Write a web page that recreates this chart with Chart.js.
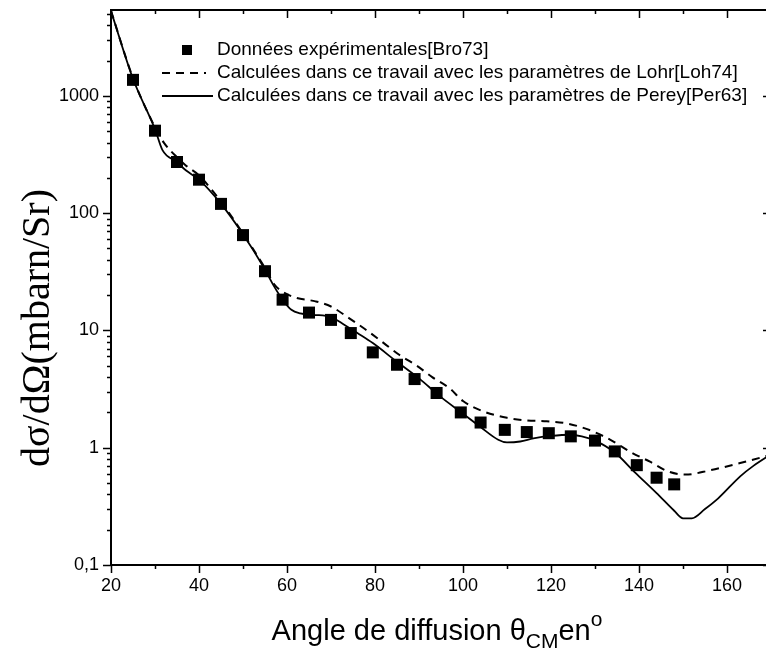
<!DOCTYPE html>
<html>
<head>
<meta charset="utf-8">
<script src="https://cdn.jsdelivr.net/npm/chart.js@4/dist/chart.umd.min.js"></script>
<style>
  html, body { margin: 0; padding: 0; background: #fff; overflow: hidden; }
</style>
</head>
<body>
<canvas id="chart" width="790" height="659"></canvas>
<script>
/* ============================
   DATA
============================ */
// Experimental points [Bro73]
const expAngles = [25, 30, 35, 40, 45, 50, 55, 59, 65, 70, 74.5, 79.5, 85, 89, 94, 99.5,
                   104, 109.5, 114.5, 119.5, 124.5, 130, 134.5, 139.5, 144, 148];
const expValues = [1370, 505, 273, 193, 120, 65, 32, 18.3, 14.2, 12.3, 9.5, 6.5, 5.1, 3.85, 2.93, 2.0,
                   1.64, 1.42, 1.36, 1.33, 1.25, 1.15, 0.93, 0.71, 0.555, 0.487];

// Calculation with Lohr parameters [Loh74] (dashed)
const lohrAngles = [20, 25, 30, 32, 35, 37, 40, 45, 50, 55, 57, 58.5, 62, 66.5, 70, 74, 78, 82,
                    85.5, 89.5, 93, 97, 100, 104.5, 110, 114.5, 119, 124, 129.5, 134, 138.5,
                    142.5, 146.5, 150.5, 156, 163, 170];
const lohrValues = [5300, 1420, 540, 400, 300, 255, 210, 125, 67, 34, 25, 22, 19, 17.7, 16, 12.8, 10.1, 7.8,
                    6.2, 5.0, 4.0, 3.2, 2.5, 2.05, 1.8, 1.71, 1.68, 1.6, 1.38, 1.14, 0.9,
                    0.76, 0.63, 0.59, 0.64, 0.74, 0.87];

// Calculation with Perey parameters [Per63] (solid)
const pereyAngles = [20, 25, 30, 31.7, 35, 37, 40, 45, 50, 55, 57, 59, 61, 63, 66, 70, 73, 76, 79.5,
                     85, 90, 95, 100, 104, 108, 110, 113, 116, 120, 124.5, 127, 130, 134.5,
                     139, 144, 148, 150, 152, 155, 158, 163, 166, 170];
const pereyValues = [5300, 1400, 520, 345, 272, 232, 193, 120, 66, 33, 24, 18.3, 15, 14, 13.6, 13, 11.2, 9.5, 7.8,
                     5.4, 3.9, 2.7, 1.95, 1.5, 1.17, 1.11, 1.13, 1.2, 1.26, 1.29, 1.25, 1.15, 0.91,
                     0.62, 0.41, 0.29, 0.25, 0.25, 0.3, 0.37, 0.57, 0.7, 0.88];

// Axis ticks
const xMajorTicks = [20, 40, 60, 80, 100, 120, 140, 160];
const xMinorTicks = [30, 50, 70, 90, 110, 130, 150, 170];
const yDecades = [0.1, 1, 10, 100, 1000];
const yLabels = ['0,1', '1', '10', '100', '1000'];

const legendLabels = [
    'Données expérimentales[Bro73]',
    'Calculées dans ce travail avec les paramètres de Lohr[Loh74]',
    'Calculées dans ce travail avec les paramètres de Perey[Per63]'
];

const SANS = '"Liberation Sans", Arial, sans-serif';
const SERIF = '"Liberation Serif", "Times New Roman", serif';

const toPoints = (xs, ys) => xs.map((x, i) => ({ x, y: ys[i] }));

/* ============================
   FRAME, TICKS, LEGEND, TITLES
============================ */
const decorations = {
    id: 'decorations',
    afterDatasetsDraw(chart) {
        const { ctx, chartArea: a, scales: { x, y } } = chart;
        ctx.save();
        ctx.strokeStyle = '#000';
        ctx.lineWidth = 2;
        ctx.strokeRect(a.left, a.top, a.right - a.left, a.bottom - a.top);

        ctx.lineWidth = 1.5;
        ctx.beginPath();
        const xTick = (v, len) => {
            const px = Math.round(x.getPixelForValue(v)) + 0.5;
            ctx.moveTo(px, a.bottom); ctx.lineTo(px, a.bottom + len);   // outward
            ctx.moveTo(px, a.top);    ctx.lineTo(px, a.top + len);      // inward
        };
        xMajorTicks.forEach(v => xTick(v, 8));
        xMinorTicks.forEach(v => xTick(v, 4));

        const yTick = (v, len) => {
            const py = Math.round(y.getPixelForValue(v)) + 0.5;
            if (py < a.top - 1 || py > a.bottom + 1) return;
            ctx.moveTo(a.left, py);  ctx.lineTo(a.left - len, py);
            ctx.moveTo(a.right, py); ctx.lineTo(a.right - len, py);
        };
        yDecades.forEach(d => {
            yTick(d, 8);
            for (let m = 2; m <= 9; m++) yTick(d * m, 4);
        });
        ctx.stroke();
        ctx.restore();
    },
    afterDraw(chart) {
        const { ctx } = chart;
        const ds = chart.data.datasets;
        ctx.save();
        ctx.fillStyle = '#000';
        ctx.strokeStyle = '#000';

        // Legend
        const rows = [50, 73, 96];
        ctx.fillRect(182, rows[0] - 5, 10, 10);
        ctx.lineWidth = ds[1].borderWidth;
        ctx.setLineDash(ds[1].borderDash);
        ctx.beginPath(); ctx.moveTo(162, rows[1]); ctx.lineTo(206, rows[1]); ctx.stroke();
        ctx.setLineDash([]);
        ctx.lineWidth = ds[2].borderWidth;
        ctx.beginPath(); ctx.moveTo(162, rows[2]); ctx.lineTo(213, rows[2]); ctx.stroke();

        ctx.font = '19px ' + SANS;
        ctx.textBaseline = 'middle';
        ctx.textAlign = 'left';
        legendLabels.forEach((t, i) => ctx.fillText(t, 217, rows[i]));

        // X title with subscript and superscript
        ctx.textBaseline = 'alphabetic';
        const big = '29px ' + SANS, small = '21px ' + SANS;
        const parts = [
            { t: 'Angle de diffusion \u03B8', f: big, dy: 0 },
            { t: 'CM', f: small, dy: 8 },
            { t: 'en', f: big, dy: 0 },
            { t: 'o', f: small, dy: -14 }
        ];
        let total = 0;
        parts.forEach(p => { ctx.font = p.f; p.w = ctx.measureText(p.t).width; total += p.w; });
        let cx = 437 - total / 2;
        parts.forEach(p => { ctx.font = p.f; ctx.fillText(p.t, cx, 640 + p.dy); cx += p.w; });

        // Y title
        ctx.translate(38, 328);
        ctx.rotate(-Math.PI / 2);
        ctx.font = '40px ' + SERIF;
        ctx.textAlign = 'center';
        ctx.textBaseline = 'middle';
        ctx.fillText('d\u03C3/d\u03A9(mbarn/Sr)', 0, 0);
        ctx.restore();
    }
};

/* ============================
   CHART
============================ */
Chart.defaults.color = '#000';
Chart.defaults.font.family = SANS;

const noScalePadding = s => {
    s.paddingTop = 0; s.paddingBottom = 0; s.paddingLeft = 0; s.paddingRight = 0;
};

new Chart(document.getElementById('chart'), {
    type: 'scatter',
    data: {
        datasets: [
            {
                label: legendLabels[0],
                data: toPoints(expAngles, expValues),
                pointStyle: 'rect',
                pointRadius: 8.5,
                pointBorderWidth: 0,
                backgroundColor: '#000',
                order: 0
            },
            {
                label: legendLabels[1],
                data: toPoints(lohrAngles, lohrValues),
                showLine: true,
                borderColor: '#000',
                borderWidth: 2,
                borderDash: [8, 6],
                pointRadius: 0,
                cubicInterpolationMode: 'monotone',
                order: 1
            },
            {
                label: legendLabels[2],
                data: toPoints(pereyAngles, pereyValues),
                showLine: true,
                borderColor: '#000',
                borderWidth: 1.8,
                pointRadius: 0,
                cubicInterpolationMode: 'monotone',
                order: 2
            }
        ]
    },
    options: {
        responsive: false,
        animation: false,
        layout: { padding: { top: 10, right: 19, left: 0, bottom: 0 } },
        plugins: { legend: { display: false }, tooltip: { enabled: false } },
        scales: {
            x: {
                type: 'linear',
                min: 20,
                max: 170,
                grid: { display: false, drawTicks: false },
                border: { display: false },
                afterBuildTicks: s => { s.ticks = xMajorTicks.map(v => ({ value: v })); },
                afterFit: s => { s.height = 94; noScalePadding(s); },
                ticks: { padding: 10, font: { size: 18 }, maxRotation: 0 }
            },
            y: {
                type: 'logarithmic',
                min: 0.1,
                max: 5400,
                grid: { display: false, drawTicks: false },
                border: { display: false },
                afterBuildTicks: s => { s.ticks = yDecades.map(v => ({ value: v })); },
                afterFit: s => { s.width = 111; noScalePadding(s); },
                ticks: {
                    padding: 12,
                    font: { size: 18 },
                    callback: v => yLabels[yDecades.indexOf(v)] ?? ''
                }
            }
        }
    },
    plugins: [decorations]
});
</script>
</body>
</html>
